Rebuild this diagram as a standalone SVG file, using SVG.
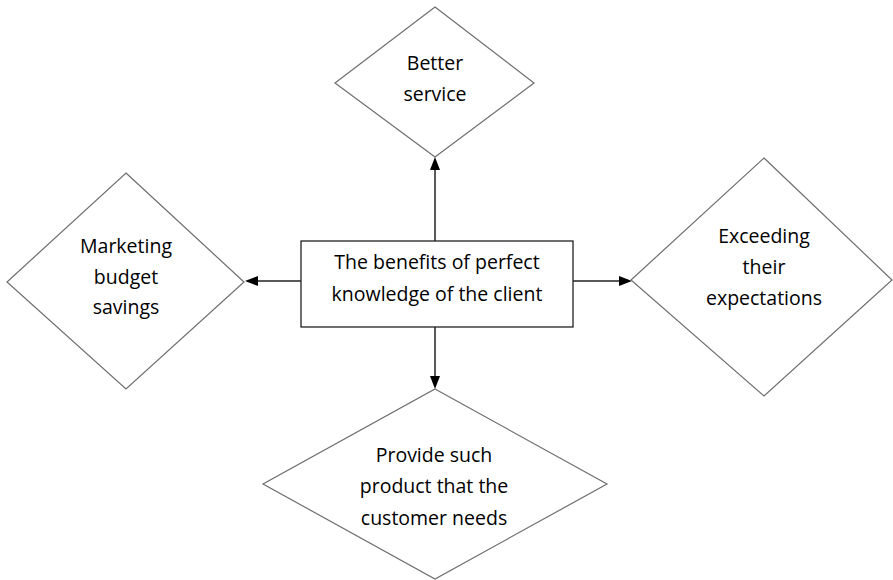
<svg xmlns="http://www.w3.org/2000/svg" width="893" height="580" viewBox="0 0 893 580">
<style>
.d{fill:#fff;stroke:#6e6e6e;stroke-width:1.2}
.r{fill:#fff;stroke:#222;stroke-width:1.3}
.t{font-family:"Open Sans","Liberation Sans",sans-serif;font-size:19.5px;fill:#000;text-anchor:middle}
.c{stroke:#222;stroke-width:1.5;fill:none}
.h{fill:#000}
</style>
<g id="connectors">
<line class="c" x1="435" y1="241" x2="435" y2="168"/>
<path class="h" d="M435,157 L430,170 L440,170 z"/>
<line class="c" x1="435" y1="327" x2="435" y2="378"/>
<path class="h" d="M435,389 L430,376 L440,376 z"/>
<line class="c" x1="301" y1="281" x2="256" y2="281"/>
<path class="h" d="M245,281 L258,276 L258,286 z"/>
<line class="c" x1="573" y1="281" x2="620" y2="281"/>
<path class="h" d="M632,281 L619,276 L619,286 z"/>
</g>
<g id="center">
<rect class="r" x="301" y="241" width="272" height="86"/>
<text class="t" x="437" y="269">The benefits of perfect</text>
<text class="t" x="437" y="301">knowledge of the client</text>
</g>
<g id="top">
<polygon class="d" points="435,7 534,83 435,157 335,83"/>
<text class="t" x="435" y="70">Better</text>
<text class="t" x="435" y="101">service</text>
</g>
<g id="left">
<polygon class="d" points="126,173 244,282 126,389 7,282"/>
<text class="t" x="126" y="253">Marketing</text>
<text class="t" x="126" y="284">budget</text>
<text class="t" x="126" y="314">savings</text>
</g>
<g id="right">
<polygon class="d" points="764,158 892,280 764,396 631,280"/>
<text class="t" x="764" y="243">Exceeding</text>
<text class="t" x="764" y="274">their</text>
<text class="t" x="764" y="305">expectations</text>
</g>
<g id="bottom">
<polygon class="d" points="435,389 607,484 435,579 263,484"/>
<text class="t" x="434" y="462">Provide such</text>
<text class="t" x="434" y="493">product that the</text>
<text class="t" x="434" y="525">customer needs</text>
</g>
</svg>
